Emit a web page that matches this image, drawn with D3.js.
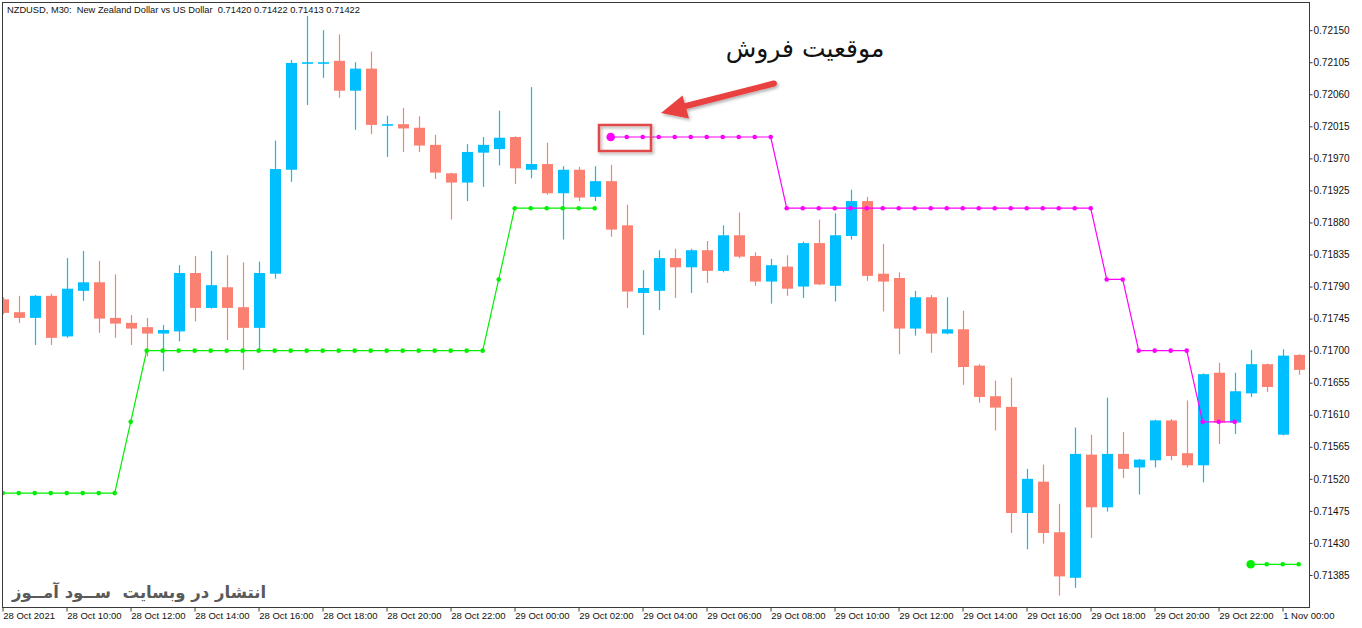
<!DOCTYPE html>
<html><head><meta charset="utf-8">
<script src="https://cdn.jsdelivr.net/npm/d3@7"></script>
<style>body{margin:0;background:#fff;overflow:hidden}</style>
</head><body><svg id="c" width="1362" height="628"></svg>
<script>
const openP=[0.71772,0.71754,0.71746,0.71777,0.71720,0.71784,0.71796,0.71746,0.71739,0.71733,
0.71724,0.71727,0.71809,0.71760,0.71789,0.71761,0.71732,0.71808,0.71954,0.72104,
0.72104,0.72107,0.72065,0.72096,0.72017,0.72018,0.72013,0.71989,0.71949,0.71936,
0.71978,0.71983,0.72000,0.71954,0.71962,0.71921,0.71954,0.71916,0.71938,0.71876,
0.71781,0.71784,0.71830,0.71817,0.71841,0.71812,0.71862,0.71833,0.71797,0.71818,
0.71790,0.71851,0.71791,0.71861,0.71910,0.71808,0.71802,0.71731,0.71775,0.71724,
0.71730,0.71679,0.71636,0.71621,0.71472,0.71516,0.71445,0.71381,0.71554,0.71480,
0.71555,0.71536,0.71546,0.71602,0.71556,0.71539,0.71669,0.71599,0.71640,0.71681,
0.71582,0.71694];
const highP=[0.71775,0.71777,0.71778,0.71780,0.71830,0.71840,0.71826,0.71807,0.71750,0.71746,
0.71736,0.71820,0.71833,0.71840,0.71834,0.71824,0.71825,0.71995,0.72108,0.72170,
0.72150,0.72144,0.72105,0.72120,0.72030,0.72041,0.72029,0.72003,0.71950,0.71990,
0.72000,0.72037,0.72001,0.72070,0.71992,0.71959,0.71958,0.71959,0.71961,0.71905,
0.71813,0.71841,0.71843,0.71843,0.71854,0.71876,0.71894,0.71838,0.71829,0.71834,
0.71853,0.71884,0.71893,0.71926,0.71916,0.71850,0.71810,0.71784,0.71778,0.71775,
0.71756,0.71681,0.71658,0.71662,0.71534,0.71540,0.71485,0.71592,0.71582,0.71634,
0.71586,0.71548,0.71603,0.71604,0.71630,0.71668,0.71683,0.71669,0.71701,0.71682,
0.71702,0.71695];
const lowP=[0.71751,0.71739,0.71708,0.71708,0.71718,0.71770,0.71725,0.71718,0.71708,0.71692,
0.71671,0.71713,0.71741,0.71759,0.71715,0.71673,0.71699,0.71801,0.71937,0.72045,
0.72083,0.72055,0.72010,0.72004,0.71972,0.71979,0.71979,0.71941,0.71884,0.71910,
0.71930,0.71960,0.71934,0.71942,0.71919,0.71856,0.71910,0.71910,0.71860,0.71760,
0.71722,0.71757,0.71774,0.71781,0.71795,0.71810,0.71830,0.71791,0.71766,0.71777,
0.71774,0.71792,0.71769,0.71856,0.71798,0.71755,0.71695,0.71721,0.71697,0.71723,
0.71652,0.71627,0.71588,0.71444,0.71421,0.71429,0.71356,0.71367,0.71437,0.71474,
0.71521,0.71498,0.71536,0.71546,0.71536,0.71515,0.71569,0.71583,0.71635,0.71642,
0.71581,0.71666];
const closeP=[0.71753,0.71746,0.71777,0.71718,0.71787,0.71796,0.71745,0.71738,0.71731,0.71724,
0.71729,0.71809,0.71760,0.71792,0.71760,0.71732,0.71809,0.71955,0.72104,0.72105,
0.72105,0.72065,0.72096,0.72017,0.72018,0.72012,0.71988,0.71950,0.71936,0.71979,
0.71989,0.71999,0.71956,0.71962,0.71921,0.71954,0.71915,0.71938,0.71870,0.71783,
0.71788,0.71830,0.71817,0.71841,0.71812,0.71862,0.71832,0.71797,0.71820,0.71787,
0.71851,0.71793,0.71862,0.71910,0.71805,0.71797,0.71731,0.71775,0.71724,0.71730,
0.71677,0.71635,0.71620,0.71472,0.71520,0.71444,0.71383,0.71555,0.71480,0.71555,
0.71534,0.71547,0.71602,0.71552,0.71539,0.71667,0.71599,0.71643,0.71681,0.71649,
0.71693,0.71673];
// indicator: support (green) and resistance (magenta) levels, null = not shown
const supportLevel=[0.7150,0.7150,0.7150,0.7150,0.7150,0.7150,0.7150,0.7150,0.7160,0.7170,
0.7170,0.7170,0.7170,0.7170,0.7170,0.7170,0.7170,0.7170,0.7170,0.7170,
0.7170,0.7170,0.7170,0.7170,0.7170,0.7170,0.7170,0.7170,0.7170,0.7170,
0.7170,0.7180,0.7190,0.7190,0.7190,0.7190,0.7190,0.7190,null,null,
null,null,null,null,null,null,null,null,null,null,
null,null,null,null,null,null,null,null,null,null,
null,null,null,null,null,null,null,null,null,null,
null,null,null,null,null,null,null,null,0.7140,0.7140,
0.7140,0.7140];
const resistanceLevel=[null,null,null,null,null,null,null,null,null,null,
null,null,null,null,null,null,null,null,null,null,
null,null,null,null,null,null,null,null,null,null,
null,null,null,null,null,null,null,null,0.7200,0.7200,
0.7200,0.7200,0.7200,0.7200,0.7200,0.7200,0.7200,0.7200,0.7200,0.7190,
0.7190,0.7190,0.7190,0.7190,0.7190,0.7190,0.7190,0.7190,0.7190,0.7190,
0.7190,0.7190,0.7190,0.7190,0.7190,0.7190,0.7190,0.7190,0.7190,0.7180,
0.7180,0.7170,0.7170,0.7170,0.7170,0.7160,0.7160,0.7160,null,null,
null,null];
const signalIdx=[38,78];
const priceTicks=[0.72150,0.72105,0.72060,0.72015,0.71970,0.71925,0.71880,0.71835,0.71790,
0.71745,0.71700,0.71655,0.71610,0.71565,0.71520,0.71475,0.71430,0.71385];
const timeTickIdx=[0,4,8,12,16,20,24,28,32,36,40,44,48,52,56,60,64,68,72,76,80];
const timeLabels=["28 Oct 2021","28 Oct 10:00","28 Oct 12:00","28 Oct 14:00","28 Oct 16:00",
"28 Oct 18:00","28 Oct 20:00","28 Oct 22:00","29 Oct 00:00","29 Oct 02:00","29 Oct 04:00",
"29 Oct 06:00","29 Oct 08:00","29 Oct 10:00","29 Oct 12:00","29 Oct 14:00","29 Oct 16:00",
"29 Oct 18:00","29 Oct 20:00","29 Oct 22:00","1 Nov 00:00"];
const titleText="NZDUSD, M30:  New Zealand Dollar vs US Dollar  0.71420 0.71422 0.71413 0.71422";
const noteText="موقعیت فروش";
const watermarkText="انتشار در وبسایت  ســود آمــوز";

const svg=d3.select("#c");
const P={l:2,t:2,r:1309,b:607};
const x=d3.scaleLinear().domain([0,81]).range([2.7,1298.7]);
const y=d3.scaleLinear().domain([0.7134004,0.7218956]).range([P.b,P.t]);
const UP="#00BFFF",DN="#FA8072",BW=11;

const defs=svg.append("defs");
defs.append("clipPath").attr("id","clip").append("rect")
  .attr("x",P.l).attr("y",P.t).attr("width",P.r-P.l).attr("height",P.b-P.t);
const f=defs.append("filter").attr("id","sh").attr("x","-20%").attr("y","-20%").attr("width","140%").attr("height","140%");
f.append("feDropShadow").attr("dx",1.5).attr("dy",2).attr("stdDeviation",1.5).attr("flood-color","#000").attr("flood-opacity",0.3);

const candles=d3.range(openP.length).map(i=>({i,o:openP[i],h:highP[i],l:lowP[i],c:closeP[i]}));
const g=svg.append("g").attr("clip-path","url(#clip)");
const cg=g.selectAll("g.c").data(candles).join("g").attr("class","c");
cg.append("line")
  .attr("x1",d=>Math.round(x(d.i))+0.5).attr("x2",d=>Math.round(x(d.i))+0.5)
  .attr("y1",d=>y(d.h)).attr("y2",d=>y(d.l))
  .attr("stroke",d=>d.c>=d.o?UP:DN).attr("stroke-width",1.2);
cg.append("rect")
  .attr("x",d=>Math.round(x(d.i))+0.5-BW/2).attr("width",BW)
  .attr("y",d=>Math.min(y(d.o),y(d.c)))
  .attr("height",d=>Math.max(1.6,Math.abs(y(d.o)-y(d.c))))
  .attr("fill",d=>d.c>=d.o?UP:DN);

function drawLevel(arr,color){
  const pts=arr.map((v,i)=>({i,v}));
  g.append("path").datum(pts)
    .attr("d",d3.line().defined(d=>d.v!=null).x(d=>x(d.i)).y(d=>y(d.v)))
    .attr("fill","none").attr("stroke",color).attr("stroke-width",1.2);
  g.selectAll(null).data(pts.filter(d=>d.v!=null)).join("circle")
    .attr("cx",d=>x(d.i)).attr("cy",d=>y(d.v))
    .attr("r",d=>signalIdx.includes(d.i)?4.3:2.3).attr("fill",color);
}
drawLevel(supportLevel,"#00F000");
drawLevel(resistanceLevel,"#FF00FF");

// border
svg.append("rect").attr("x",P.l+0.5).attr("y",P.t+0.5).attr("width",P.r-P.l).attr("height",P.b-P.t)
  .attr("fill","none").attr("stroke","#3a3a3a").attr("stroke-width",1);

// axes
const yAx=svg.append("g").attr("transform",`translate(${P.r+0.5},0)`)
  .call(d3.axisRight(y).tickValues(priceTicks).tickFormat(d3.format(".5f")).tickSize(3).tickPadding(1));
yAx.select(".domain").remove();
yAx.selectAll("line").attr("stroke","#3a3a3a");
yAx.selectAll("text").attr("font-family","Liberation Sans, Arial, sans-serif").attr("font-size",10).attr("fill","#111");

const xAx=svg.append("g").attr("transform",`translate(0,${P.b+0.5})`)
  .call(d3.axisBottom(x).tickValues(timeTickIdx).tickFormat((d,i)=>timeLabels[i]).tickSize(4).tickPadding(1));
xAx.select(".domain").remove();
xAx.selectAll("line").attr("stroke","#3a3a3a").attr("transform","translate(-0.2,0)");
xAx.selectAll("text").attr("text-anchor","start").attr("x",0)
  .attr("font-family","Liberation Sans, Arial, sans-serif").attr("font-size",9.5).attr("fill","#111");

// title
svg.append("text").attr("x",7).attr("y",13).style("white-space","pre").text(titleText)
  .attr("font-family","Liberation Sans, Arial, sans-serif").attr("font-size",9.3).attr("fill","#111");

// annotation
svg.append("text").attr("x",805).attr("y",57).attr("text-anchor","middle")
  .attr("font-family","DejaVu Sans, sans-serif").attr("font-size",25).attr("fill","#111").text(noteText);

const arrow=svg.append("g").attr("filter","url(#sh)");
arrow.append("line").attr("x1",774).attr("y1",83.5).attr("x2",684).attr("y2",106.5)
  .attr("stroke","#E94040").attr("stroke-width",6).attr("stroke-linecap","round");
arrow.append("path").attr("d","M661,113 L689,118.5 L682.5,95.5 Z").attr("fill","#E94040");

svg.append("rect").attr("x",599).attr("y",125).attr("width",52).attr("height",26)
  .attr("fill","none").attr("stroke","#E04848").attr("stroke-width",2.5).attr("filter","url(#sh)");

// watermark
svg.append("text").attr("x",139).attr("y",598).attr("text-anchor","middle").style("white-space","pre")
  .attr("font-family","DejaVu Sans, sans-serif").attr("font-weight","bold").attr("font-size",16.5)
  .attr("fill","#5a5a5a").text(watermarkText);
</script></body></html>
